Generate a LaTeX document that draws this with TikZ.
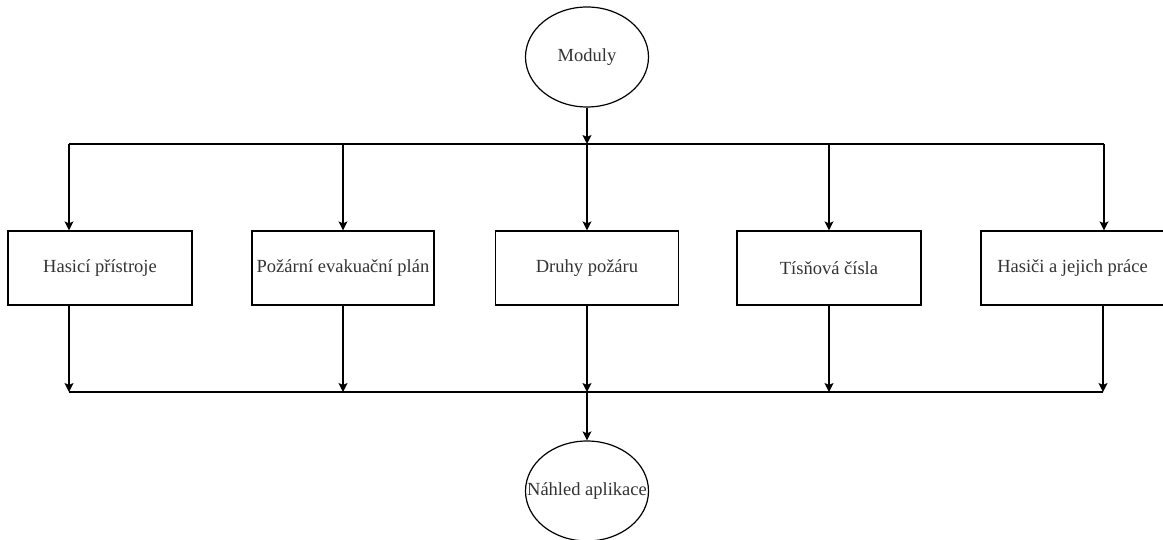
\documentclass[tikz,border=0pt]{standalone}
\usepackage{fontspec}
\setmainfont{Liberation Serif}
\usetikzlibrary{shapes.geometric,arrows.meta}
\definecolor{txt}{RGB}{51,51,51}
\begin{document}
\begin{tikzpicture}[x=1pt,y=-1pt,
  every node/.style={font=\fontsize{18.5}{21}\selectfont, text=txt},
  oval/.style={draw, ellipse, line width=1.2pt, minimum width=123pt, minimum height=100pt, inner sep=0pt},
  box/.style={draw, rectangle, line width=1.2pt, minimum height=74pt, inner sep=0pt},
  conn/.style={line width=1.2pt},
  arr/.style={conn, -{Stealth[length=9pt,width=9pt,inset=2pt]}}]
\useasboundingbox (0,0) rectangle (1163,540);
\clip (0,0) rectangle (1163,540);
\node[oval, label={center:Moduly}] (mod) at (587,57) {};
\node[box, minimum width=184pt] (b1) at (100,268) {Hasicí přístroje};
\node[box, minimum width=182pt] (b2) at (343,268) {Požární evakuační plán};
\node[box, minimum width=183pt] (b3) at (587,268) {Druhy požáru};
\node[box, minimum width=184pt] (b4) at (829,268) {Tísňová čísla};
\node[box, minimum width=183pt] (b5) at (1072.5,268) {Hasiči a jejich práce};
\node[oval, label={center:Náhled aplikace}] (nah) at (587,491) {};
% top distribution
\coordinate (tl) at (69,144);
\coordinate (tr) at (1104,144);
\coordinate (tc) at (587,144);
\draw[arr] (mod) -- (tc);
\draw[conn] (tl) -- (tr);
\draw[arr] (tl) -- (tl |- b1.north);
\draw[arr] (tl -| b2.north) -- (b2.north);
\draw[arr] (tc) -- (b3.north);
\draw[arr] (tl -| b4.north) -- (b4.north);
\draw[arr] (tr) -- (tr |- b5.north);
% bottom collection
\coordinate (bl) at (69,392);
\coordinate (br) at (1103,392);
\coordinate (bc) at (587,392);
\draw[arr] (bl |- b1.south) -- (bl);
\draw[arr] (b2.south) -- (b2.south |- bl);
\draw[arr] (b3.south) -- (bc);
\draw[arr] (b4.south) -- (b4.south |- bl);
\draw[arr] (br |- b5.south) -- (br);
\draw[conn] (bl) -- (br);
\draw[arr] (bc) -- (nah);
\end{tikzpicture}
\end{document}
